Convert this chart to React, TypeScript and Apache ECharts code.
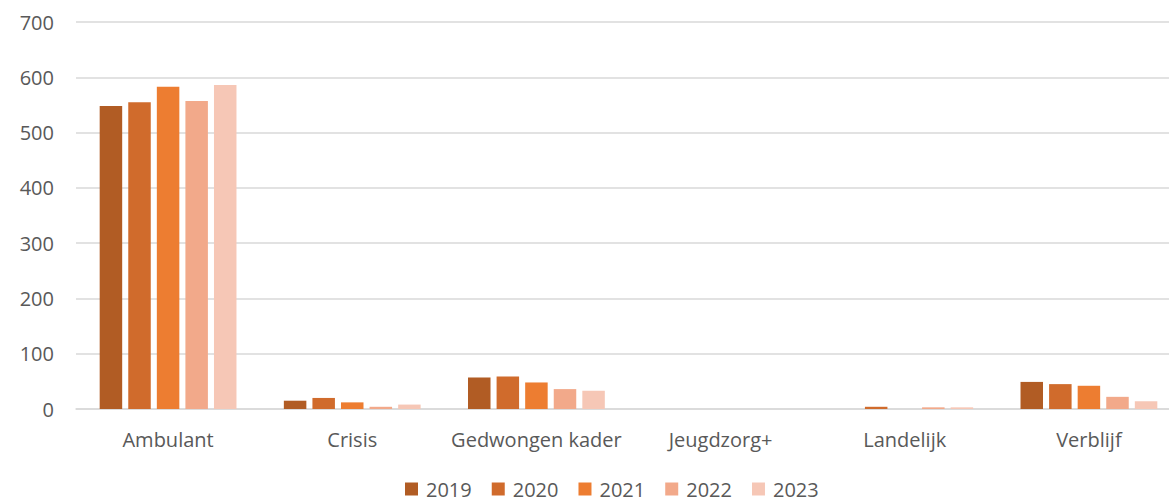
import React, { useEffect, useRef } from "react";
import * as echarts from "echarts";

const categories = ["Ambulant", "Crisis", "Gedwongen kader", "Jeugdzorg+", "Landelijk", "Verblijf"];
const years = ["2019", "2020", "2021", "2022", "2023"];
const values2019 = [548, 15, 57, 0, 0, 49];
const values2020 = [555, 20, 59, 0, 4, 45];
const values2021 = [583, 12, 48, 0, 0, 42];
const values2022 = [557, 4, 36, 0, 3, 22];
const values2023 = [586, 8, 33, 0, 3, 14];
const seriesValues = [values2019, values2020, values2021, values2022, values2023];
const colors = ["#B15C24", "#D06B2C", "#ED7D31", "#F2A98A", "#F6C7B6"];

const FONT = "'Open Sans', 'Noto Sans', sans-serif";

export default function App() {
  const ref = useRef<HTMLDivElement>(null);
  useEffect(() => {
    if (!ref.current) return;
    const chart = echarts.init(ref.current, undefined, { renderer: "svg" });
    chart.setOption({
      animation: false,
      color: colors,
      grid: { left: 76, right: 0, top: 22, bottom: 95, containLabel: false },
      legend: {
        bottom: 0,
        left: 400,
        itemWidth: 13,
        itemHeight: 13,
        itemGap: 20,
        icon: "rect",
        textStyle: { color: "#595959", fontSize: 20, fontFamily: FONT, padding: [0, 0, 0, 3] },
        data: years,
      },
      xAxis: {
        type: "category",
        data: categories,
        axisLine: { show: true, lineStyle: { color: "#d9d9d9", width: 1.5 } },
        axisTick: { show: false },
        axisLabel: { color: "#595959", fontSize: 20, fontFamily: FONT, margin: 20, interval: 0 },
      },
      yAxis: {
        type: "value",
        min: 0,
        max: 700,
        interval: 100,
        axisLine: { show: false },
        axisTick: { show: false },
        splitLine: { lineStyle: { color: "#d9d9d9", width: 1.5 } },
        axisLabel: { color: "#595959", fontSize: 20, fontFamily: FONT, margin: 22 },
      },
      series: years.map((y, i) => ({
        name: y,
        type: "bar",
        data: seriesValues[i],
        barWidth: 22.5,
        barGap: "27%",
        itemStyle: { color: colors[i] },
      })),
    });
    return () => chart.dispose();
  }, []);
  return (
    <div style={{ position: "fixed", left: 0, top: 0, width: 1169, height: 504, overflow: "hidden", background: "#fff" }}>
      <div ref={ref} style={{ position: "absolute", left: 0, top: 0, width: 1181, height: 504 }} />
    </div>
  );
}
